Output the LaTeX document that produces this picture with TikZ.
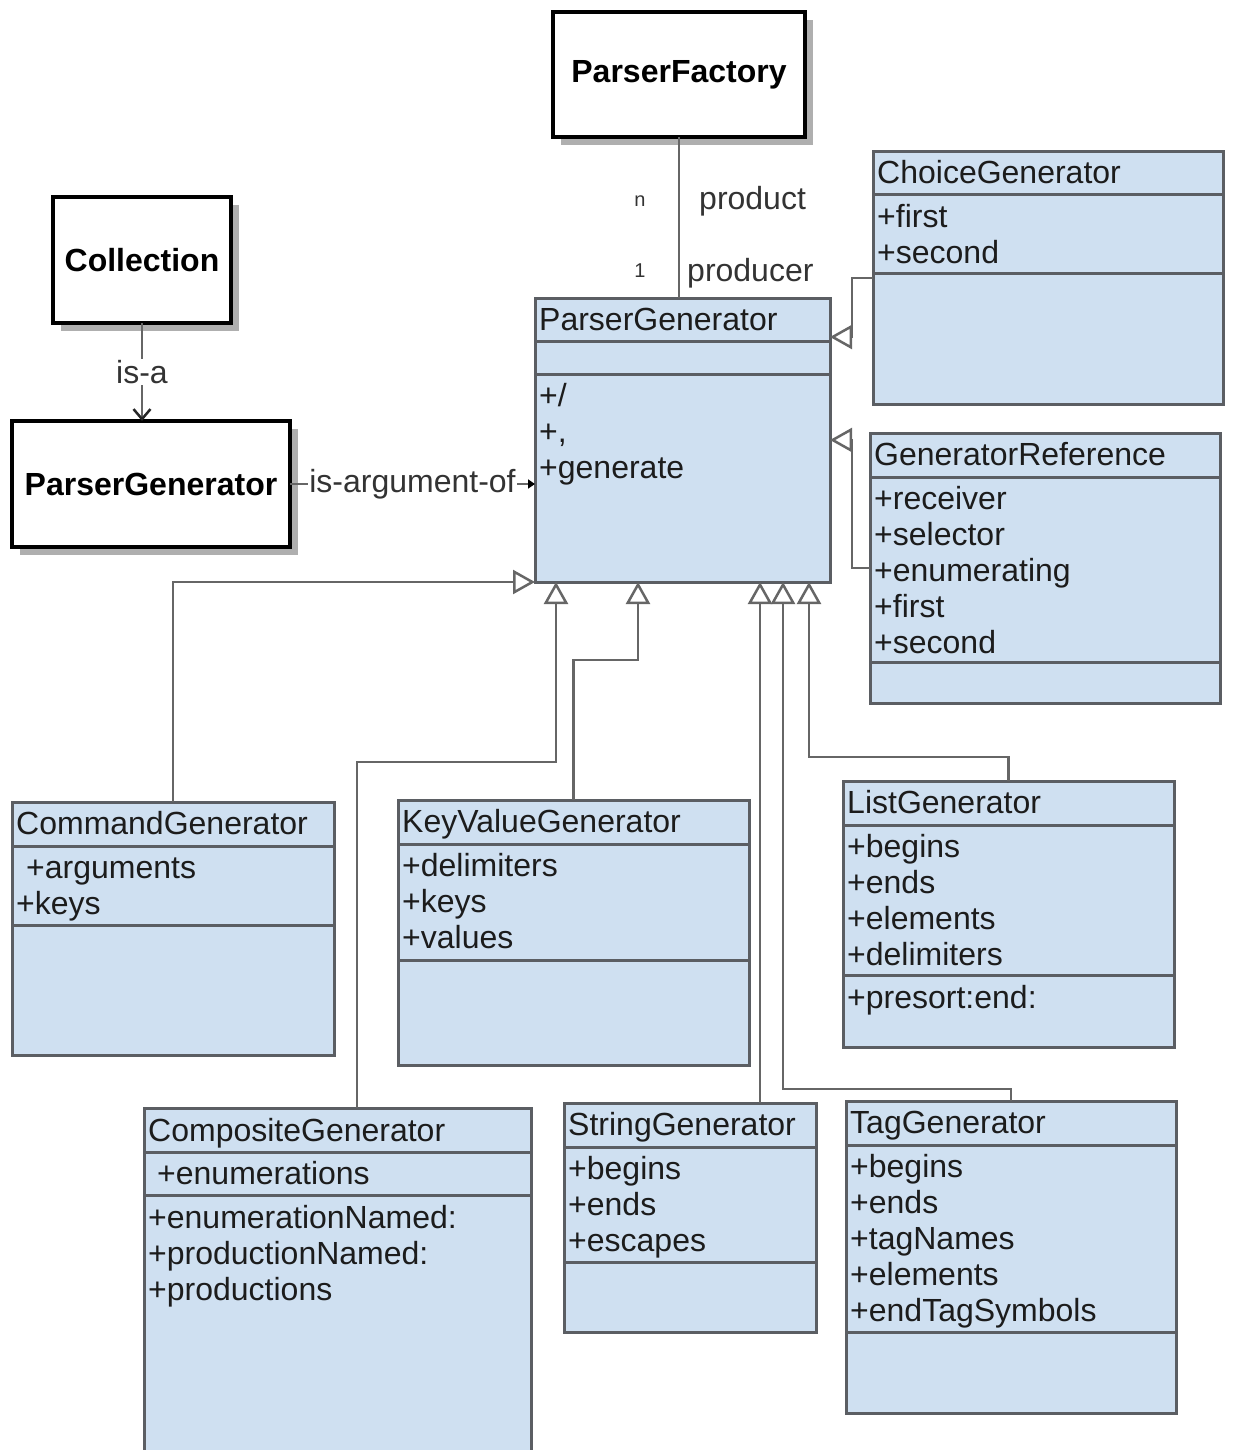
\documentclass[tikz,border=0pt]{standalone}
\usepackage{fontspec}
\setmainfont{Liberation Sans}
\usetikzlibrary{arrows.meta,shadows}
\definecolor{clsfill}{HTML}{CFE0F1}
\definecolor{clsborder}{HTML}{5B5E63}
\definecolor{linecol}{HTML}{666666}
\definecolor{txtcol}{HTML}{1C1C1C}
\definecolor{lblcol}{HTML}{333333}
\definecolor{shadowgray}{HTML}{AFAFAF}
\tikzset{
  cls/.style={draw=clsborder, fill=clsfill, line width=3pt, inner sep=0pt, outer sep=0pt, anchor=north west},
  div/.style={draw=clsborder, line width=3pt},
  txt/.style={anchor=base west, inner sep=0pt, text=txtcol, font=\fontsize{32}{36}\selectfont},
  plainbox/.style={draw=black, line width=3.5pt, fill=white, inner sep=0pt, outer sep=0pt, anchor=north west,
    font=\bfseries\fontsize{32}{36}\selectfont, text=black,
    drop shadow={shadow xshift=8pt, shadow yshift=-8pt, fill=shadowgray, opacity=1}},
  gen/.style={draw=linecol, line width=2.5pt, -{Triangle[length=22pt,width=24pt,fill=white]}},
  assoc/.style={draw=linecol, line width=2.5pt},
  lbl/.style={inner sep=1pt, text=lblcol, font=\fontsize{32}{36}\selectfont},
  smalllbl/.style={inner sep=0pt, text=lblcol, font=\fontsize{20}{22}\selectfont},
}
\newcommand\umlclass[5]{\node[cls, minimum width={(#4-#2)*1pt}, minimum height={(#5-#3)*1pt}] (#1) at (#2,#3) {};}
\newcommand\umldiv[3]{\draw[div] (#1,#3) -- (#2,#3);}
\newcommand\umllines[4]{\foreach \t [count=\i] in {#4} {\node[txt] (#1-\i) at (#2, {#3+36*(\i-1)}) {\t};}}
\begin{document}
\begin{tikzpicture}[x=1pt,y=-1pt]
\useasboundingbox (0,0) rectangle (1232,1450);
\clip (0,0) rectangle (1232,1450);

% plain boxes
\node[plainbox, minimum width=252pt, minimum height=125pt] (pf) at (553,12) {ParserFactory};
\node[plainbox, minimum width=178pt, minimum height=126pt] (coll) at (53,197) {Collection};
\node[plainbox, minimum width=278pt, minimum height=126pt] (pgl) at (12,421) {ParserGenerator};

% ParserGenerator class
\umlclass{pg}{535}{298}{830}{582}
\umldiv{535}{830}{341}
\umldiv{535}{830}{374}
\umllines{pgt}{539}{330}{ParserGenerator}
\umllines{pgm}{539}{406}{{+/},{+,},{+generate}}

% ChoiceGenerator
\umlclass{cg}{873}{152}{1223}{404}
\umldiv{873}{1223}{195}
\umldiv{873}{1223}{273}
\umllines{cgt}{877}{184}{ChoiceGenerator}
\umllines{cga}{877}{227}{+first,+second}

% GeneratorReference
\umlclass{gr}{870}{433}{1220}{703}
\umldiv{870}{1220}{477}
\umldiv{870}{1220}{662}
\umllines{grt}{874}{465}{GeneratorReference}
\umllines{gra}{874}{509}{+receiver,+selector,+enumerating,+first,+second}

% CommandGenerator
\umlclass{cmd}{12}{802}{334}{1055}
\umldiv{12}{334}{846}
\umldiv{12}{334}{925}
\umllines{cmdt}{16}{834}{CommandGenerator}
\umllines{cmda}{16}{878}{{\hspace*{10pt}+arguments},+keys}

% KeyValueGenerator
\umlclass{kv}{398}{800}{749}{1065}
\umldiv{398}{749}{844}
\umldiv{398}{749}{960}
\umllines{kvt}{402}{832}{KeyValueGenerator}
\umllines{kva}{402}{876}{+delimiters,+keys,+values}

% ListGenerator
\umlclass{list}{843}{781}{1174}{1047}
\umldiv{843}{1174}{825}
\umldiv{843}{1174}{975}
\umllines{listt}{847}{813}{ListGenerator}
\umllines{lista}{847}{857}{+begins,+ends,+elements,+delimiters}
\umllines{listm}{847}{1008}{+presort:end:}

% CompositeGenerator
\umlclass{comp}{144}{1108}{531}{1470}
\umldiv{144}{531}{1152}
\umldiv{144}{531}{1195}
\umllines{compt}{148}{1141}{CompositeGenerator}
\umllines{compa}{148}{1184}{{\hspace*{9pt}+enumerations}}
\umllines{compm}{148}{1228}{+enumerationNamed:,+productionNamed:,+productions}

% StringGenerator
\umlclass{str}{564}{1103}{816}{1332}
\umldiv{564}{816}{1147}
\umldiv{564}{816}{1262}
\umllines{strt}{568}{1135}{StringGenerator}
\umllines{stra}{568}{1179}{+begins,+ends,+escapes}

% TagGenerator
\umlclass{tag}{846}{1101}{1176}{1413}
\umldiv{846}{1176}{1145}
\umldiv{846}{1176}{1332}
\umllines{tagt}{850}{1133}{TagGenerator}
\umllines{taga}{850}{1177}{+begins,+ends,+tagNames,+elements,+endTagSymbols}

% attachment points on ParserGenerator
\coordinate (pgA) at ([xshift=21pt]pg.south west);
\coordinate (pgB) at ([xshift=103pt]pg.south west);
\coordinate (pgC) at ([xshift=225pt]pg.south west);
\coordinate (pgD) at ([xshift=248pt]pg.south west);
\coordinate (pgE) at ([xshift=274pt]pg.south west);
\coordinate (pgF) at ([yshift=-39pt]pg.north east);
\coordinate (pgG) at ([yshift=-142pt]pg.north east);

% generalisations
\draw[gen] (cmd.north) |- (pg.south west);
\draw[gen] ([xshift=213pt]comp.north west) -- ++(0,-346) -| (pgA);
\draw[gen] (kv.north) -- ++(0,-140) -| (pgB);
\draw[gen] (pgC |- str.north) -- (pgC);
\draw[gen] (tag.north) -- ++(0,-12) -| (pgD);
\draw[gen] (list.north) -- ++(0,-24) -| (pgE);
\draw[gen] (cg.west) -- ++(-21,0) |- (pgF);
\draw[gen] (gr.west) -- ++(-18,0) |- (pgG);

% associations
\draw[assoc] (pf.south) -- (pf.south |- pg.north);
\node[smalllbl, anchor=base] (mn) at (640,207) {n};
\node[smalllbl, anchor=base] (m1) at (640,277) {1};
\node[lbl, inner sep=0pt, anchor=base west] (rprod) at (699,209) {product};
\node[lbl, inner sep=0pt, anchor=base west] (rproducer) at (687,281) {producer};

\draw[assoc, -{Straight Barb[length=10pt,width=17pt,color=black!85]}] (coll.south) -- node[lbl, fill=white] (isa) {is-a} (coll.south |- pgl.north);
\draw[assoc, -{Triangle[length=7pt,width=9pt,color=black]}] (pgl.east) -- node[lbl, fill=white] (isarg) {is-argument-of} (pgl.east -| pg.west);
\end{tikzpicture}
\end{document}
